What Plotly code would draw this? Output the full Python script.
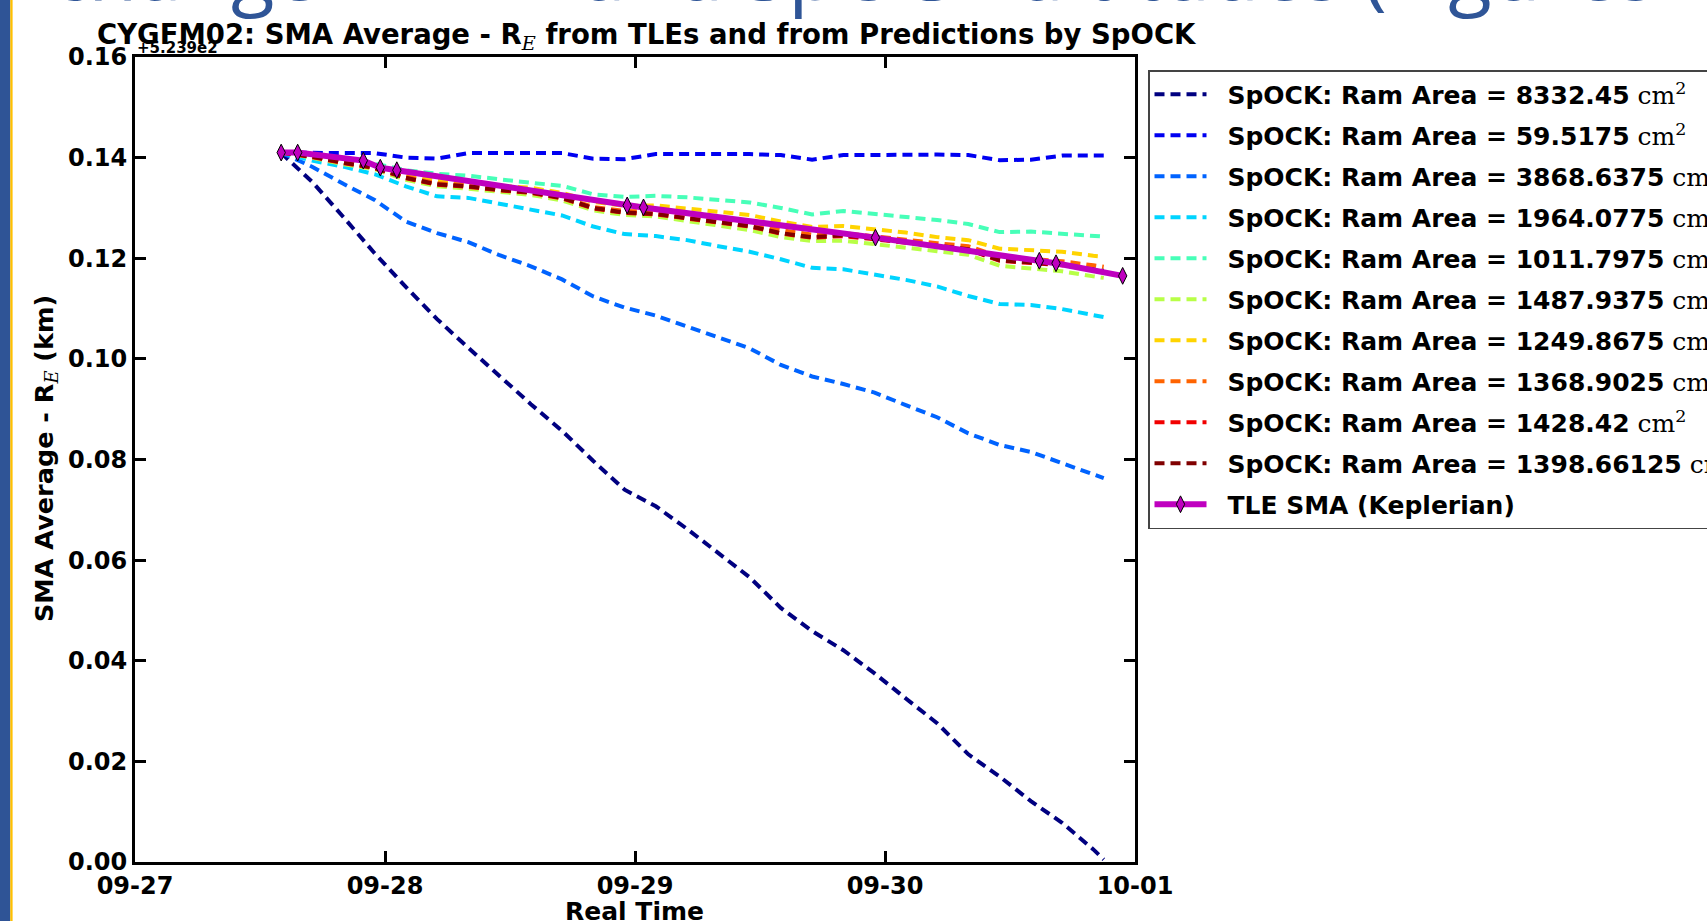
import pandas as pd
import plotly.graph_objects as go

# SpOCK prediction epochs, hours after 2017-09-27 00:00
pred_hours = [14, 17, 20, 23, 26, 29, 32, 35, 38, 41, 44, 47, 50, 53,
              56, 59, 62, 65, 68, 71, 74, 77, 80, 83, 86, 89, 92, 93]

# SMA average - R_E (km), offset +523.9
ram_areas = ["8332.45", "59.5175", "3868.6375", "1964.0775", "1011.7975",
             "1487.9375", "1249.8675", "1368.9025", "1428.42", "1398.66125"]
colors = ["#000080", "#0000f1", "#0063ff", "#00d4ff", "#47ffb8",
          "#b8ff47", "#ffd400", "#ff6300", "#f10000", "#800000"]

sma_8332 = [0.1410, 0.1352, 0.1282, 0.1210, 0.1143, 0.1079, 0.1022, 0.0966, 0.0910, 0.0857,
            0.0797, 0.0740, 0.0707, 0.0662, 0.0613, 0.0566, 0.0505, 0.0459, 0.0421, 0.0375,
            0.0325, 0.0276, 0.0214, 0.0170, 0.0121, 0.0078, 0.0025, 0.0005]
sma_59 = [0.1410, 0.1409, 0.1409, 0.1409, 0.1400, 0.1398, 0.1409, 0.1409, 0.1409, 0.1409,
          0.1398, 0.1397, 0.1407, 0.1407, 0.1407, 0.1407, 0.1405, 0.1396, 0.1405, 0.1406,
          0.1406, 0.1406, 0.1405, 0.1395, 0.1396, 0.1404, 0.1404, 0.1404]
sma_3868 = [0.1410, 0.1382, 0.1348, 0.1316, 0.1273, 0.1250, 0.1232, 0.1206, 0.1184, 0.1158,
            0.1124, 0.1102, 0.1086, 0.1064, 0.1042, 0.1021, 0.0988, 0.0965, 0.0950, 0.0933,
            0.0908, 0.0884, 0.0852, 0.0829, 0.0815, 0.0792, 0.0769, 0.0763]
sma_1964 = [0.1410, 0.1394, 0.1382, 0.1367, 0.1343, 0.1323, 0.1320, 0.1308, 0.1297, 0.1285,
            0.1263, 0.1248, 0.1244, 0.1236, 0.1224, 0.1213, 0.1198, 0.1181, 0.1178, 0.1168,
            0.1157, 0.1144, 0.1125, 0.1109, 0.1107, 0.1099, 0.1087, 0.1083]
sma_1011 = [0.1410, 0.1404, 0.1396, 0.1388, 0.1375, 0.1368, 0.1364, 0.1356, 0.1350, 0.1344,
            0.1327, 0.1322, 0.1324, 0.1321, 0.1316, 0.1311, 0.1300, 0.1287, 0.1294, 0.1288,
            0.1281, 0.1276, 0.1268, 0.1252, 0.1253, 0.1249, 0.1244, 0.1243]
sma_1487 = [0.1410, 0.1400, 0.1387, 0.1377, 0.1356, 0.1343, 0.1338, 0.1331, 0.1326, 0.1315,
            0.1295, 0.1286, 0.1283, 0.1274, 0.1265, 0.1256, 0.1242, 0.1234, 0.1235, 0.1229,
            0.1221, 0.1214, 0.1207, 0.1185, 0.1180, 0.1174, 0.1164, 0.1161]
sma_1249 = [0.1410, 0.1404, 0.1393, 0.1384, 0.1366, 0.1354, 0.1350, 0.1344, 0.1340, 0.1330,
            0.1312, 0.1304, 0.1305, 0.1299, 0.1293, 0.1286, 0.1273, 0.1262, 0.1264, 0.1258,
            0.1251, 0.1242, 0.1236, 0.1219, 0.1216, 0.1213, 0.1205, 0.1203]
sma_1368 = [0.1410, 0.1403, 0.1391, 0.1381, 0.1362, 0.1349, 0.1345, 0.1338, 0.1333, 0.1322,
            0.1302, 0.1294, 0.1292, 0.1284, 0.1277, 0.1269, 0.1256, 0.1247, 0.1250, 0.1244,
            0.1237, 0.1230, 0.1224, 0.1203, 0.1199, 0.1194, 0.1186, 0.1183]
sma_1428 = [0.1410, 0.1401, 0.1389, 0.1379, 0.1359, 0.1346, 0.1342, 0.1335, 0.1330, 0.1319,
            0.1299, 0.1290, 0.1287, 0.1279, 0.1271, 0.1263, 0.1249, 0.1241, 0.1244, 0.1238,
            0.1231, 0.1224, 0.1217, 0.1195, 0.1191, 0.1186, 0.1177, 0.1174]
sma_1398 = [0.1410, 0.1402, 0.1390, 0.1380, 0.1360, 0.1347, 0.1343, 0.1336, 0.1331, 0.1320,
            0.1300, 0.1291, 0.1288, 0.1280, 0.1272, 0.1264, 0.1250, 0.1242, 0.1246, 0.1239,
            0.1232, 0.1225, 0.1218, 0.1196, 0.1192, 0.1187, 0.1178, 0.1175]
pred_series = [sma_8332, sma_59, sma_3868, sma_1964, sma_1011,
               sma_1487, sma_1249, sma_1368, sma_1428, sma_1398]

# TLE epochs and SMA from TLEs
tle_times = ["2017-09-27 14:02", "2017-09-27 15:37", "2017-09-27 21:55", "2017-09-27 23:33",
             "2017-09-28 01:08", "2017-09-28 23:15", "2017-09-29 00:49", "2017-09-29 23:05",
             "2017-09-30 14:49", "2017-09-30 16:25", "2017-09-30 22:49"]
tle_sma = [0.1410, 0.1410, 0.1394, 0.1380, 0.1375, 0.1305, 0.1301, 0.1241,
           0.1195, 0.1190, 0.1165]

t0 = pd.Timestamp("2017-09-27")
pred_times = [t0 + pd.Timedelta(hours=h) for h in pred_hours]

W, H = 1707, 921
L, R, T, B = 135, 1135, 57, 862     # plot area in pixels


def px(x):
    return (x - L) / (R - L)


def py(y):
    return (B - y) / (B - T)


FONT = "DejaVu Sans"
SERIF = "font-family:DejaVu Serif;font-weight:normal"
CM2 = f"<span style='{SERIF}'>cm<sup>2</sup></span>"
R_E = f"R<sub><span style='{SERIF};font-style:italic'>E</span></sub>"
PAD = "&nbsp;&nbsp;"   # gap between legend line and label

fig = go.Figure()
for i, (area, col, vals) in enumerate(zip(ram_areas, colors, pred_series)):
    fig.add_trace(go.Scatter(
        x=pred_times, y=vals, mode="lines",
        name=f"{PAD}<b>SpOCK: Ram Area = {area}</b> {CM2}",
        legendgroup=f"g{i}",
        line=dict(color=col, width=4, dash="10px,6px"),
    ))
fig.add_trace(go.Scatter(
    x=pd.to_datetime(tle_times), y=tle_sma, mode="lines+markers",
    name=f"{PAD}<b>TLE SMA (Keplerian)</b>", legendgroup="tle",
    line=dict(color="#bf00bf", width=6),
    marker=dict(symbol="diamond-tall", size=12, color="#bf00bf",
                line=dict(color="black", width=1)),
))

axis_common = dict(
    showline=True, linewidth=3, linecolor="black", mirror="ticks",
    ticks="inside", ticklen=11, tickwidth=2.5, tickcolor="black",
    showgrid=False, zeroline=False,
    tickfont=dict(family=FONT, size=24, color="black", weight="bold"),
)
fig.update_xaxes(type="date", range=["2017-09-27", "2017-10-01"],
                 dtick=86400000, tickformat="%m-%d", **axis_common)
fig.update_yaxes(range=[0, 0.16], dtick=0.02, tick0=0, tickformat=".2f",
                 **axis_common)

annotations = [
    # slide heading, cut off by the top of the page
    dict(text="change in TLE and SpOCK altitudes (Figures",
         x=px(48), y=py(25), xanchor="left", yanchor="bottom",
         font=dict(family="Open Sans", size=80, color="#2f5597")),
    dict(text="<b>+5.239e2</b>", x=px(135), y=py(48), xanchor="left", yanchor="middle",
         font=dict(family=FONT, size=15, color="black")),
    dict(text=f"<b>CYGFM02: SMA Average - {R_E} from TLEs and from Predictions by SpOCK</b>",
         x=px(647), y=py(37), xanchor="center", yanchor="middle",
         font=dict(family=FONT, size=27.5, color="black")),
    dict(text=f"<b>SMA Average - {R_E} (km)</b>", textangle=-90,
         x=px(45), y=py(459), xanchor="center", yanchor="middle",
         font=dict(family=FONT, size=25.5, color="black")),
    dict(text="<b>Real Time</b>", x=px(634), y=py(911), xanchor="center", yanchor="middle",
         font=dict(family=FONT, size=25, color="black")),
]
for a in annotations:
    a.update(xref="paper", yref="paper", showarrow=False)

shapes = [
    dict(type="rect", x0=px(0), x1=px(10.3), y0=py(930), y1=py(-10),
         fillcolor="#2f5496", line_width=0),
    dict(type="rect", x0=px(10.3), x1=px(12.6), y0=py(930), y1=py(-10),
         fillcolor="#ffc000", line_width=0),
]
for s in shapes:
    s.update(xref="paper", yref="paper", layer="above")

fig.update_layout(
    width=W, height=H,
    margin=dict(l=L, r=W - R, t=T, b=H - B, autoexpand=False),
    paper_bgcolor="white", plot_bgcolor="white",
    font=dict(family=FONT, color="black"),
    annotations=annotations, shapes=shapes,
    showlegend=True,
    legend=dict(x=px(1148), y=py(70), xanchor="left", yanchor="top",
                bgcolor="white", bordercolor="#444", borderwidth=1.5,
                font=dict(family=FONT, size=25, color="black"),
                tracegroupgap=5.5, itemwidth=52),
    hovermode=False,
)

# page body has an 8px default margin; drop it so the figure fills the window
fig.write_html("out.html", config={"displayModeBar": False},
               post_script="document.body.style.margin='0';")
